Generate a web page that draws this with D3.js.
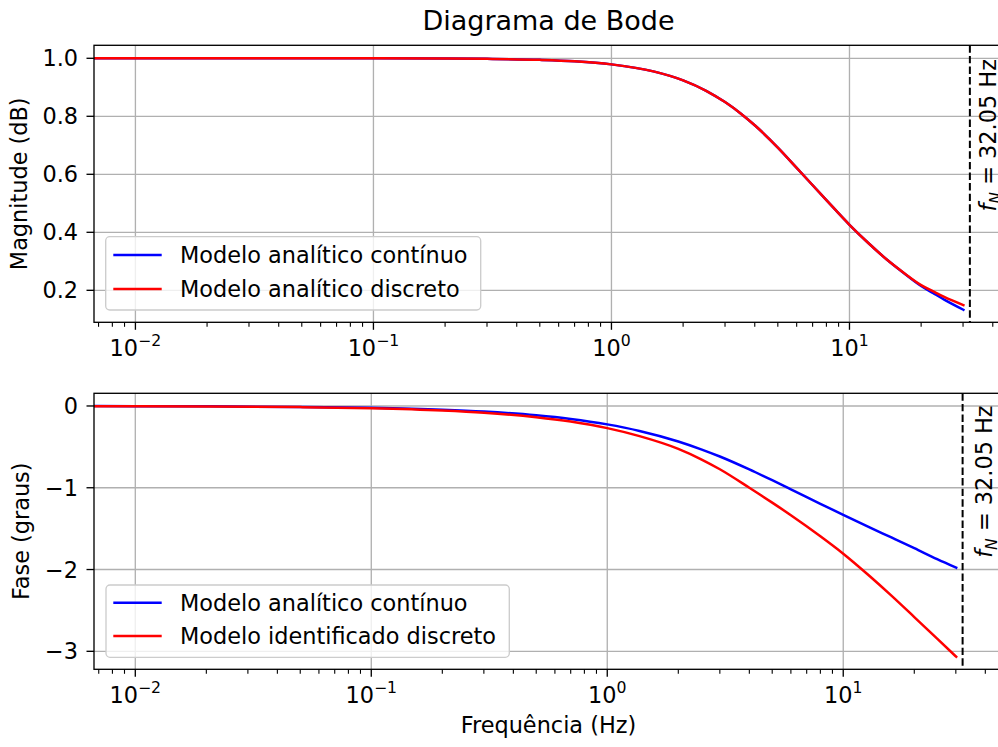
<!DOCTYPE html>
<html><head><meta charset="utf-8">
<script src="https://cdn.jsdelivr.net/npm/d3@7"></script>
<style>
body{margin:0;background:#fff}
svg{display:block}
text{font-family:"DejaVu Sans",sans-serif;fill:#000}
</style>
</head><body>
<svg id="chart" width="998" height="747"></svg>
<script>
// ---------------- data ----------------
const freqMag = [0.006, 0.01, 0.03, 0.1, 0.2, 0.3, 0.5, 0.7, 1, 1.5, 2, 2.5, 3, 3.5, 4, 5, 6, 8, 10, 12, 14.3, 17, 20, 22.5, 25, 30.1];
const magContinuous = [1.0, 1.0, 1.0, 0.9998, 0.9991, 0.998, 0.9947, 0.9897, 0.979, 0.955, 0.924, 0.888, 0.849, 0.809, 0.769, 0.692, 0.622, 0.511, 0.426, 0.363, 0.307, 0.258, 0.215, 0.19, 0.168, 0.133];
const magDiscrete   = [1.0, 1.0, 1.0, 0.9998, 0.9991, 0.998, 0.9947, 0.9897, 0.979, 0.955, 0.924, 0.888, 0.849, 0.809, 0.769, 0.692, 0.622, 0.511, 0.426, 0.363, 0.307, 0.259, 0.218, 0.196, 0.177, 0.149];

const freqPhase = [0.006, 0.01, 0.02, 0.05, 0.1, 0.2, 0.3, 0.5, 0.7, 1, 1.37, 2, 2.5, 3, 4, 5, 6, 8, 10, 13, 16, 20, 25, 30.1];
const phaseContinuous = [-0.0014, -0.0023, -0.0046, -0.0114, -0.0228, -0.0455, -0.068, -0.113, -0.158, -0.225, -0.305, -0.434, -0.53, -0.618, -0.776, -0.908, -1.019, -1.196, -1.331, -1.487, -1.608, -1.739, -1.873, -1.978];
const phaseDiscrete   = [-0.0017, -0.0028, -0.0055, -0.0137, -0.0275, -0.055, -0.082, -0.137, -0.191, -0.271, -0.369, -0.525, -0.652, -0.774, -1.0, -1.182, -1.336, -1.593, -1.806, -2.085, -2.319, -2.581, -2.845, -3.066];

const nyquistHz = 32.05;
const magTicks = [0.2, 0.4, 0.6, 0.8, 1.0];
const phaseTicks = [0, -1, -2, -3];
const decadeExps = [-2, -1, 0, 1];

const title = "Diagrama de Bode";
const magLabel = "Magnitude (dB)";
const phaseLabel = "Fase (graus)";
const xLabel = "Frequência (Hz)";
const magLegend = ["Modelo analítico contínuo", "Modelo analítico discreto"];
const phaseLegend = ["Modelo analítico contínuo", "Modelo identificado discreto"];
const colors = ["#0000ff", "#ff0000"];

// ---------------- layout ----------------
const svg = d3.select("#chart");
const FS = 22.4;
const L = 94, R = 1003;

const panels = [
  {top: 45.3, bottom: 322.3, xdom: [Math.pow(10, -2.174), Math.pow(10, 1.645)], ydom: [0.0897, 1.0448],
   ticks: magTicks, fmt: d3.format(".1f"), label: magLabel, labelX: 27,
   freq: freqMag, series: [magContinuous, magDiscrete], legend: magLegend,
   leg: {x: 105.7, y: 236.7, w: 375, h: 73.3, r1: 255, r2: 289}, txtX: 996, txtFrac: 0.325},
  {top: 393.3, bottom: 669.3, xdom: [Math.pow(10, -2.175), Math.pow(10, 1.677)], ydom: [-3.22, 0.155],
   ticks: phaseTicks, fmt: d => d3.format("d")(d).replace("-", "\u2212"), label: phaseLabel, labelX: 28.5,
   freq: freqPhase, series: [phaseContinuous, phaseDiscrete], legend: phaseLegend,
   leg: {x: 106, y: 585, w: 403.3, h: 72.3, r1: 602.7, r2: 636}, txtX: 991.7, txtFrac: 0.32}
];

const defs = svg.append("defs");

panels.forEach((p, i) => {
  const x = d3.scaleLog().domain(p.xdom).range([L, R]);
  const y = d3.scaleLinear().domain(p.ydom).range([p.bottom, p.top]);
  const g = svg.append("g");

  defs.append("clipPath").attr("id", "clip" + i)
    .append("rect").attr("x", L).attr("y", p.top).attr("width", R - L).attr("height", p.bottom - p.top);

  // grid
  const grid = g.append("g").attr("stroke", "#b0b0b0").attr("stroke-width", 1.33);
  decadeExps.forEach(e => {
    const xv = x(Math.pow(10, e));
    grid.append("line").attr("x1", xv).attr("x2", xv).attr("y1", p.top).attr("y2", p.bottom);
  });
  p.ticks.forEach(t => {
    grid.append("line").attr("x1", L).attr("x2", R).attr("y1", y(t)).attr("y2", y(t));
  });

  // curves
  const line = d3.line().x((d, k) => x(p.freq[k])).y(d => y(d)).curve(d3.curveMonotoneX);
  const cg = g.append("g").attr("clip-path", `url(#clip${i})`);
  p.series.forEach((s, k) => {
    cg.append("path").datum(s).attr("d", line).attr("fill", "none")
      .attr("stroke", colors[k]).attr("stroke-width", 2.5).attr("stroke-linecap", "square");
  });

  // nyquist line
  const xn = x(nyquistHz);
  g.append("line").attr("x1", xn).attr("x2", xn).attr("y1", p.top).attr("y2", p.bottom)
    .attr("stroke", "#000").attr("stroke-width", 2).attr("stroke-dasharray", "7.4,3.2");

  // nyquist text
  const ty = p.top + p.txtFrac * (p.bottom - p.top);
  const t = g.append("text").attr("transform", `translate(${p.txtX},${ty}) rotate(-90)`)
    .attr("text-anchor", "middle").attr("font-size", FS);
  t.append("tspan").attr("font-style", "italic").text("f");
  t.append("tspan").attr("font-style", "italic").attr("font-size", FS * 0.7).attr("dy", FS * 0.22).text("N");
  t.append("tspan").attr("dy", -FS * 0.22).text(" = " + nyquistHz.toFixed(2) + " Hz");

  // spines
  g.append("rect").attr("x", L).attr("y", p.top).attr("width", R - L).attr("height", p.bottom - p.top)
    .attr("fill", "none").attr("stroke", "#000").attr("stroke-width", 1.33);

  // y ticks
  p.ticks.forEach(tk => {
    g.append("line").attr("x1", L - 7.5).attr("x2", L).attr("y1", y(tk)).attr("y2", y(tk))
      .attr("stroke", "#000").attr("stroke-width", 1.33);
    g.append("text").attr("x", 78).attr("y", y(tk) + 8.1).attr("text-anchor", "end")
      .attr("font-size", FS).text(p.fmt(tk));
  });

  // x ticks major
  decadeExps.forEach(e => {
    const xv = x(Math.pow(10, e));
    g.append("line").attr("x1", xv).attr("x2", xv).attr("y1", p.bottom).attr("y2", p.bottom + 7.5)
      .attr("stroke", "#000").attr("stroke-width", 1.33);
    const tx = g.append("text").attr("x", xv).attr("y", p.bottom + 33.5).attr("text-anchor", "middle")
      .attr("font-size", FS);
    tx.append("tspan").text("10");
    tx.append("tspan").attr("font-size", FS * 0.7).attr("dy", -FS * 0.45)
      .text((e < 0 ? "\u2212" : "") + Math.abs(e));
  });
  // minor ticks
  for (let e = -3; e <= 1; e++) {
    for (let k = 2; k <= 9; k++) {
      const v = k * Math.pow(10, e);
      if (v < p.xdom[0] || v > p.xdom[1]) continue;
      const xv = x(v);
      g.append("line").attr("x1", xv).attr("x2", xv).attr("y1", p.bottom).attr("y2", p.bottom + 4.5)
        .attr("stroke", "#000").attr("stroke-width", 1.1);
    }
  }

  // y label
  g.append("text").attr("transform", `translate(${p.labelX},${(p.top + p.bottom) / 2}) rotate(-90)`)
    .attr("text-anchor", "middle").attr("font-size", FS).text(p.label);

  // legend
  const lg = g.append("g");
  lg.append("rect").attr("x", p.leg.x).attr("y", p.leg.y).attr("width", p.leg.w).attr("height", p.leg.h)
    .attr("rx", 4).attr("fill", "#fff").attr("fill-opacity", 0.8)
    .attr("stroke", "#cccccc").attr("stroke-width", 1.33);
  [p.leg.r1, p.leg.r2].forEach((ry, k) => {
    lg.append("line").attr("x1", 113.3).attr("x2", 161.7).attr("y1", ry).attr("y2", ry)
      .attr("stroke", colors[k]).attr("stroke-width", 2.5);
    lg.append("text").attr("x", 180).attr("y", ry + 8).attr("font-size", FS).text(p.legend[k]);
  });
});

// title and x label
svg.append("text").attr("x", 548.5).attr("y", 30).attr("text-anchor", "middle")
  .attr("font-size", 27).text(title);
svg.append("text").attr("x", 548.5).attr("y", 733).attr("text-anchor", "middle")
  .attr("font-size", FS).text(xLabel);
</script>
</body></html>
